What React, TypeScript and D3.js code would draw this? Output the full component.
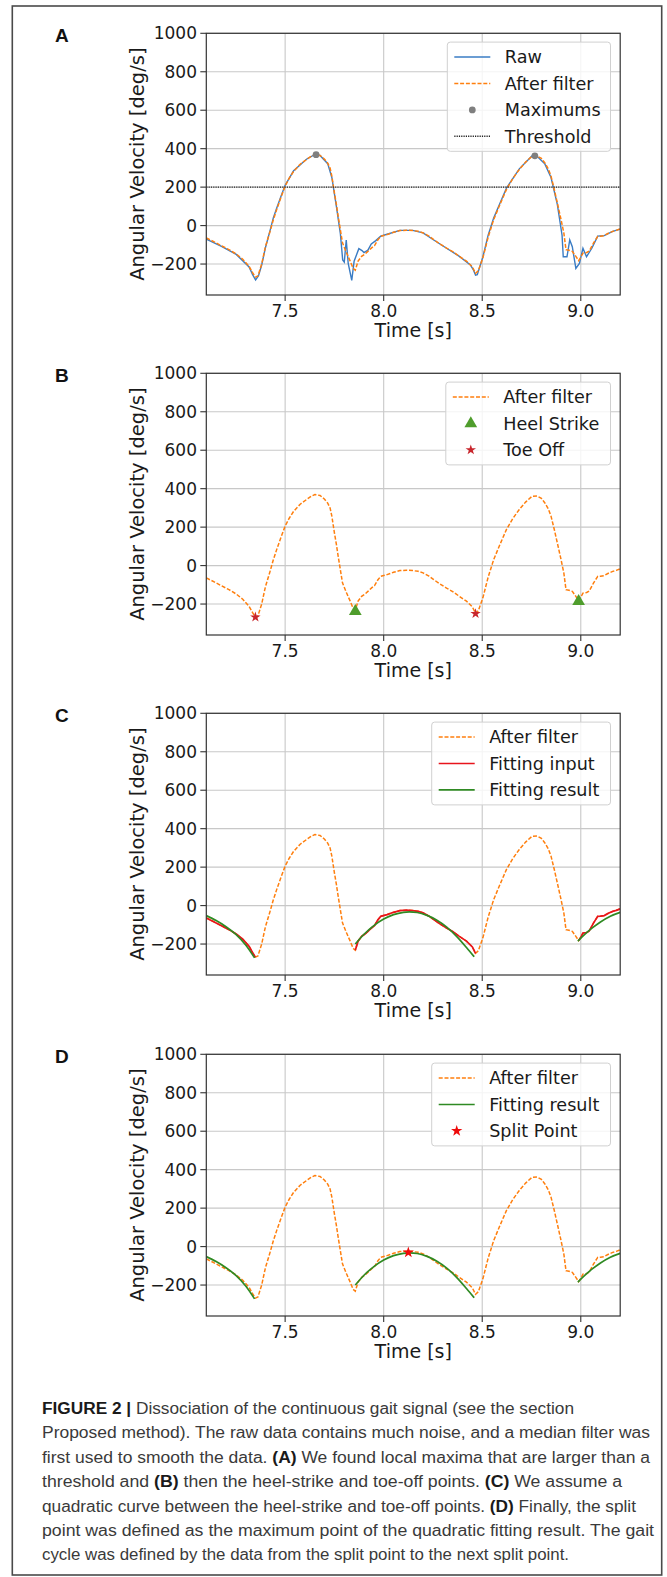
import React from "react";
import * as d3 from "d3";

// ---------- data ----------
const X_DOMAIN: [number, number] = [7.1, 9.2];
const Y_DOMAIN: [number, number] = [-361, 1000];
const X_TICKS = [7.5, 8.0, 8.5, 9.0];
const Y_TICKS = [-200, 0, 200, 400, 600, 800, 1000];

// median-filtered angular velocity [time s, deg/s]
const FILTERED: [number, number][] = [
  [7.1, -64], [7.14, -85], [7.177, -105], [7.215, -125], [7.252, -148], [7.285, -175],
  [7.317, -212], [7.335, -245], [7.349, -268], [7.362, -262], [7.381, -200], [7.4, -110],
  [7.425, -25], [7.44, 30], [7.457, 83], [7.48, 150], [7.5, 205], [7.52, 245], [7.543, 282],
  [7.575, 318], [7.608, 343], [7.635, 362], [7.651, 369], [7.677, 365], [7.7, 345],
  [7.716, 325], [7.728, 300], [7.737, 257], [7.75, 170], [7.76, 110], [7.769, 49],
  [7.78, -20], [7.791, -90], [7.812, -143], [7.83, -185], [7.845, -222], [7.856, -232],
  [7.87, -185], [7.888, -160], [7.905, -148], [7.92, -134], [7.94, -115], [7.953, -105],
  [7.97, -75], [7.985, -56], [8.017, -47], [8.05, -35], [8.082, -26], [8.115, -24],
  [8.147, -26], [8.175, -30], [8.2, -38], [8.23, -55], [8.254, -73], [8.285, -95],
  [8.319, -117], [8.35, -135], [8.384, -160], [8.42, -185], [8.45, -215], [8.466, -248],
  [8.48, -235], [8.504, -165], [8.53, -60], [8.558, 31], [8.59, 110], [8.623, 188],
  [8.655, 245], [8.688, 292], [8.72, 330], [8.752, 360], [8.778, 362], [8.8, 350],
  [8.817, 327], [8.835, 295], [8.849, 257], [8.865, 190], [8.881, 118], [8.898, 40],
  [8.914, -38], [8.925, -125], [8.94, -128], [8.957, -134], [8.975, -160], [8.989, -182],
  [9.0, -165], [9.011, -143], [9.03, -140], [9.043, -132], [9.065, -90], [9.086, -56],
  [9.1, -55], [9.119, -52], [9.14, -40], [9.162, -30], [9.18, -25], [9.2, -17],
];

// raw gyroscope signal
const RAW: [number, number][] = [
  [7.1, -70], [7.177, -108], [7.252, -150], [7.317, -215], [7.335, -255], [7.35, -283],
  [7.365, -260], [7.381, -205], [7.4, -115], [7.425, -20], [7.44, 40], [7.457, 90],
  [7.48, 155], [7.5, 210], [7.543, 285], [7.608, 345], [7.651, 370], [7.677, 365],
  [7.716, 322], [7.737, 250], [7.76, 100], [7.78, -40], [7.792, -179], [7.8, -190],
  [7.81, -75], [7.82, -197], [7.838, -285], [7.85, -185], [7.874, -120], [7.89, -130],
  [7.9, -140], [7.92, -128], [7.937, -95], [7.96, -78], [7.985, -55], [8.017, -45],
  [8.082, -25], [8.147, -25], [8.2, -38], [8.254, -75], [8.319, -118], [8.384, -160],
  [8.44, -205], [8.455, -230], [8.466, -258], [8.475, -255], [8.504, -160], [8.53, -50],
  [8.558, 40], [8.623, 195], [8.688, 295], [8.752, 362], [8.778, 360], [8.817, 322],
  [8.849, 250], [8.881, 110], [8.905, -50], [8.911, -162], [8.93, -162], [8.944, -75],
  [8.957, -110], [8.975, -223], [8.993, -197], [9.011, -118], [9.029, -162], [9.056, -118],
  [9.086, -55], [9.119, -52], [9.162, -30], [9.2, -18],
];

const MAXIMUMS: [number, number][] = [[7.657, 369], [8.767, 363]];
const THRESHOLD = [200];
const HEEL_STRIKE: [number, number][] = [[7.856, -238], [8.989, -186]];
const TOE_OFF: [number, number][] = [[7.349, -268], [8.466, -250]];

// quadratic fitting results (three segments)
const FIT_1: [number, number][] = [[7.1, -52], [7.15, -78], [7.2, -110], [7.25, -150], [7.3, -205], [7.345, -272]];
const FIT_2: [number, number][] = [
  [7.856, -200], [7.9, -149], [7.95, -104], [8.0, -70], [8.05, -47], [8.1, -35], [8.13, -33],
  [8.17, -36], [8.22, -51], [8.27, -76], [8.32, -112], [8.37, -160], [8.42, -218], [8.459, -266],
];
const FIT_3: [number, number][] = [[8.985, -185], [9.02, -150], [9.06, -115], [9.1, -85], [9.15, -55], [9.2, -35]];
const SPLIT_POINT: [number, number][] = [[8.125, -30]];

// fitting-input ranges: start -> toe off, heel strike -> toe off, heel strike -> end
const FIT_RANGES: [number, number][] = [
  [X_DOMAIN[0], TOE_OFF[0][0]],
  [HEEL_STRIKE[0][0], TOE_OFF[1][0]],
  [HEEL_STRIKE[1][0], X_DOMAIN[1]],
];

const CAPTION: { t: string; b?: boolean }[][] = [
  [{ t: "FIGURE 2 |", b: true }, { t: " Dissociation of the continuous gait signal (see the section" }],
  [{ t: "Proposed method). The raw data contains much noise, and a median filter was" }],
  [{ t: "first used to smooth the data. " }, { t: "(A)", b: true }, { t: " We found local maxima that are larger than a" }],
  [{ t: "threshold and " }, { t: "(B)", b: true }, { t: " then the heel-strike and toe-off points. " }, { t: "(C)", b: true }, { t: " We assume a" }],
  [{ t: "quadratic curve between the heel-strike and toe-off points. " }, { t: "(D)", b: true }, { t: " Finally, the split" }],
  [{ t: "point was defined as the maximum point of the quadratic fitting result. The gait" }],
  [{ t: "cycle was defined by the data from the split point to the next split point." }],
];
const CAPTION_ENDS = [574, 650, 650, 622, 636, 654, 569];

// ---------- styling / layout ----------
const W = 667;
const H = 1577;
const PL = 206.3;
const PR = 620.2;
const PH = 261.7;
const PANEL_TOPS = [33.3, 373.3, 713.3, 1054.3];
const FONT = "'DejaVu Sans', sans-serif";
const C_BLUE = "#3a7cc4";
const C_ORANGE = "#ff7f0e";
const C_GRAY = "#7f7f7f";
const C_TRI = "#4f9d2c";
const C_TOE = "#c8262c";
const C_RED = "#e8141c";
const C_GREEN = "#2f8a23";
const C_SPLIT = "#ee0a0a";

type LegendItem =
  | { label: string; kind: "line"; color: string; dash?: string; width: number }
  | { label: string; kind: "marker"; color: string; symbol: d3.SymbolType; size: number };

const LEG_FILTER: LegendItem = { label: "After filter", kind: "line", color: C_ORANGE, dash: "4,1.8", width: 1.5 };

const PANELS = [
  {
    letter: "A",
    legendLeft: 447.3,
    legend: [
      { label: "Raw", kind: "line", color: C_BLUE, width: 1.5 },
      LEG_FILTER,
      { label: "Maximums", kind: "marker", color: C_GRAY, symbol: d3.symbolCircle, size: 36 },
      { label: "Threshold", kind: "line", color: "#222", dash: "1.2,1.1", width: 1.4 },
    ] as LegendItem[],
  },
  {
    letter: "B",
    legendLeft: 445.8,
    legend: [
      LEG_FILTER,
      { label: "Heel Strike", kind: "marker", color: C_TRI, symbol: d3.symbolTriangle, size: 70 },
      { label: "Toe Off", kind: "marker", color: C_TOE, symbol: d3.symbolStar, size: 34 },
    ] as LegendItem[],
  },
  {
    letter: "C",
    legendLeft: 431.7,
    legend: [
      LEG_FILTER,
      { label: "Fitting input", kind: "line", color: C_RED, width: 1.6 },
      { label: "Fitting result", kind: "line", color: C_GREEN, width: 1.6 },
    ] as LegendItem[],
  },
  {
    letter: "D",
    legendLeft: 431.7,
    legend: [
      LEG_FILTER,
      { label: "Fitting result", kind: "line", color: C_GREEN, width: 1.6 },
      { label: "Split Point", kind: "marker", color: C_SPLIT, symbol: d3.symbolStar, size: 40 },
    ] as LegendItem[],
  },
];

function Legend({ items, left, top }: { items: LegendItem[]; left: number; top: number }) {
  const right = 610.5;
  const first = 15;
  const step = 26.4;
  const h = first * 2 + step * (items.length - 1);
  const boxTop = top + 8.8;
  return (
    <g>
      <rect x={left} y={boxTop} width={right - left} height={h} rx={3} fill="#fff" fillOpacity={0.8} stroke="#d0d0d0" strokeWidth={1} />
      {items.map((it, i) => {
        const cy = boxTop + first + i * step;
        const hx0 = left + 7;
        const hx1 = left + 43;
        return (
          <g key={i}>
            {it.kind === "line" ? (
              <line x1={hx0} x2={hx1} y1={cy} y2={cy} stroke={it.color} strokeWidth={it.width} strokeDasharray={it.dash} />
            ) : (
              <path d={d3.symbol().type(it.symbol).size(it.size)() || ""} transform={`translate(${(hx0 + hx1) / 2},${cy})`} fill={it.color} />
            )}
            <text x={left + 57.5} y={cy} dy="0.36em" fontFamily={FONT} fontSize={17.6} fill="#1a1a1a">
              {it.label}
            </text>
          </g>
        );
      })}
    </g>
  );
}

function Panel({ idx }: { idx: number }) {
  const cfg = PANELS[idx];
  const top = PANEL_TOPS[idx];
  const bottom = top + PH;
  const x = d3.scaleLinear().domain(X_DOMAIN).range([PL, PR]);
  const y = d3.scaleLinear().domain(Y_DOMAIN).range([bottom, top]);
  const line = d3.line<[number, number]>().x((d) => x(d[0])).y((d) => y(d[1]));
  const fitLine = d3
    .line<[number, number]>()
    .x((d) => x(d[0]))
    .y((d) => y(d[1]))
    .curve(d3.curveMonotoneX);
  const clipId = `clip${idx}`;
  const sym = (type: d3.SymbolType, size: number) => d3.symbol().type(type).size(size)() || "";
  const filterPath = <path d={line(FILTERED) || ""} fill="none" stroke={C_ORANGE} strokeWidth={1.5} strokeDasharray="4,1.8" />;
  const fits = [FIT_1, FIT_2, FIT_3].map((seg, i) => (
    <path key={"f" + i} d={fitLine(seg) || ""} fill="none" stroke={C_GREEN} strokeWidth={1.7} />
  ));

  return (
    <g>
      <text x={55} y={top + 9} fontFamily="'Liberation Sans', Arial, sans-serif" fontWeight="bold" fontSize={19} fill="#111">
        {cfg.letter}
      </text>
      {/* grid */}
      {X_TICKS.map((t) => (
        <line key={"gx" + t} x1={x(t)} x2={x(t)} y1={top} y2={bottom} stroke="#c8c8c8" strokeWidth={1.1} />
      ))}
      {Y_TICKS.map((t) => (
        <line key={"gy" + t} x1={PL} x2={PR} y1={y(t)} y2={y(t)} stroke="#c8c8c8" strokeWidth={1.1} />
      ))}
      <defs>
        <clipPath id={clipId}>
          <rect x={PL} y={top} width={PR - PL} height={PH} />
        </clipPath>
      </defs>
      <g clipPath={`url(#${clipId})`}>
        {idx === 0 && (
          <>
            <path d={line(RAW) || ""} fill="none" stroke={C_BLUE} strokeWidth={1.4} />
            {filterPath}
            {MAXIMUMS.map((d, i) => (
              <path key={i} d={sym(d3.symbolCircle, 36)} transform={`translate(${x(d[0])},${y(d[1])})`} fill={C_GRAY} />
            ))}
            {THRESHOLD.map((v, i) => (
              <line key={i} x1={PL} x2={PR} y1={y(v)} y2={y(v)} stroke="#222" strokeWidth={1.4} strokeDasharray="1.2,1.1" />
            ))}
          </>
        )}
        {idx === 1 && (
          <>
            {filterPath}
            {HEEL_STRIKE.map((d, i) => (
              <path key={"h" + i} d={sym(d3.symbolTriangle, 70)} transform={`translate(${x(d[0])},${y(d[1])})`} fill={C_TRI} />
            ))}
            {TOE_OFF.map((d, i) => (
              <path key={"t" + i} d={sym(d3.symbolStar, 34)} transform={`translate(${x(d[0])},${y(d[1])})`} fill={C_TOE} />
            ))}
          </>
        )}
        {idx === 2 && (
          <>
            {filterPath}
            {FIT_RANGES.map((r, i) => (
              <path
                key={"r" + i}
                d={line(FILTERED.filter((d) => d[0] >= r[0] - 1e-9 && d[0] <= r[1] + 1e-9)) || ""}
                fill="none"
                stroke={C_RED}
                strokeWidth={1.7}
              />
            ))}
            {fits}
          </>
        )}
        {idx === 3 && (
          <>
            {filterPath}
            {fits}
            {SPLIT_POINT.map((d, i) => (
              <path key={"s" + i} d={sym(d3.symbolStar, 40)} transform={`translate(${x(d[0])},${y(d[1])})`} fill={C_SPLIT} />
            ))}
          </>
        )}
      </g>
      {/* frame */}
      <rect x={PL} y={top} width={PR - PL} height={PH} fill="none" stroke="#333" strokeWidth={1.2} />
      {/* ticks */}
      {Y_TICKS.map((t) => (
        <g key={"ty" + t}>
          <line x1={PL - 6} x2={PL} y1={y(t)} y2={y(t)} stroke="#333" strokeWidth={1.1} />
          <text x={197} y={y(t)} dy="0.36em" textAnchor="end" fontFamily={FONT} fontSize={17} fill="#1a1a1a">
            {t < 0 ? "\u2212" + Math.abs(t) : String(t)}
          </text>
        </g>
      ))}
      {X_TICKS.map((t) => (
        <g key={"tx" + t}>
          <line x1={x(t)} x2={x(t)} y1={bottom} y2={bottom + 6} stroke="#333" strokeWidth={1.1} />
          <text x={x(t)} y={bottom + 21.7} textAnchor="middle" fontFamily={FONT} fontSize={17} fill="#1a1a1a">
            {d3.format(".1f")(t)}
          </text>
        </g>
      ))}
      <text x={(PL + PR) / 2} y={bottom + 42} textAnchor="middle" fontFamily={FONT} fontSize={19} fill="#1a1a1a">
        Time [s]
      </text>
      <text
        transform={`translate(137,${(top + bottom) / 2}) rotate(-90)`}
        textAnchor="middle"
        dy="0.36em"
        fontFamily={FONT}
        fontSize={19.5}
        fill="#1a1a1a"
      >
        Angular Velocity [deg/s]
      </text>
      <Legend items={cfg.legend} left={cfg.legendLeft} top={top} />
    </g>
  );
}

export default function App() {
  const capLeft = 42;
  const capBase = 1414;
  const capStep = 24.4;
  return (
    <svg width={W} height={H} viewBox={`0 0 ${W} ${H}`} style={{ display: "block", position: "absolute", left: 0, top: 0, background: "#fff" }}>
      <rect x={0} y={0} width={W} height={H} fill="#fff" />
      <rect x={12.3} y={6} width={649.4} height={1569} fill="none" stroke="#4a4a4a" strokeWidth={1.6} />
      {PANELS.map((_, i) => (
        <Panel key={i} idx={i} />
      ))}
      {CAPTION.map((parts, i) => (
        <text
          key={i}
          x={capLeft}
          y={capBase + i * capStep}
          fontFamily="'Liberation Sans', Arial, sans-serif"
          fontSize={16}
          fill="#3a3a3a"
          textLength={CAPTION_ENDS[i] - capLeft}
          lengthAdjust="spacingAndGlyphs"
        >
          {parts.map((p, j) => (
            <tspan key={j} fontWeight={p.b ? "bold" : "normal"} fill={p.b ? "#1a1a1a" : "#3a3a3a"}>
              {p.t}
            </tspan>
          ))}
        </text>
      ))}
    </svg>
  );
}
